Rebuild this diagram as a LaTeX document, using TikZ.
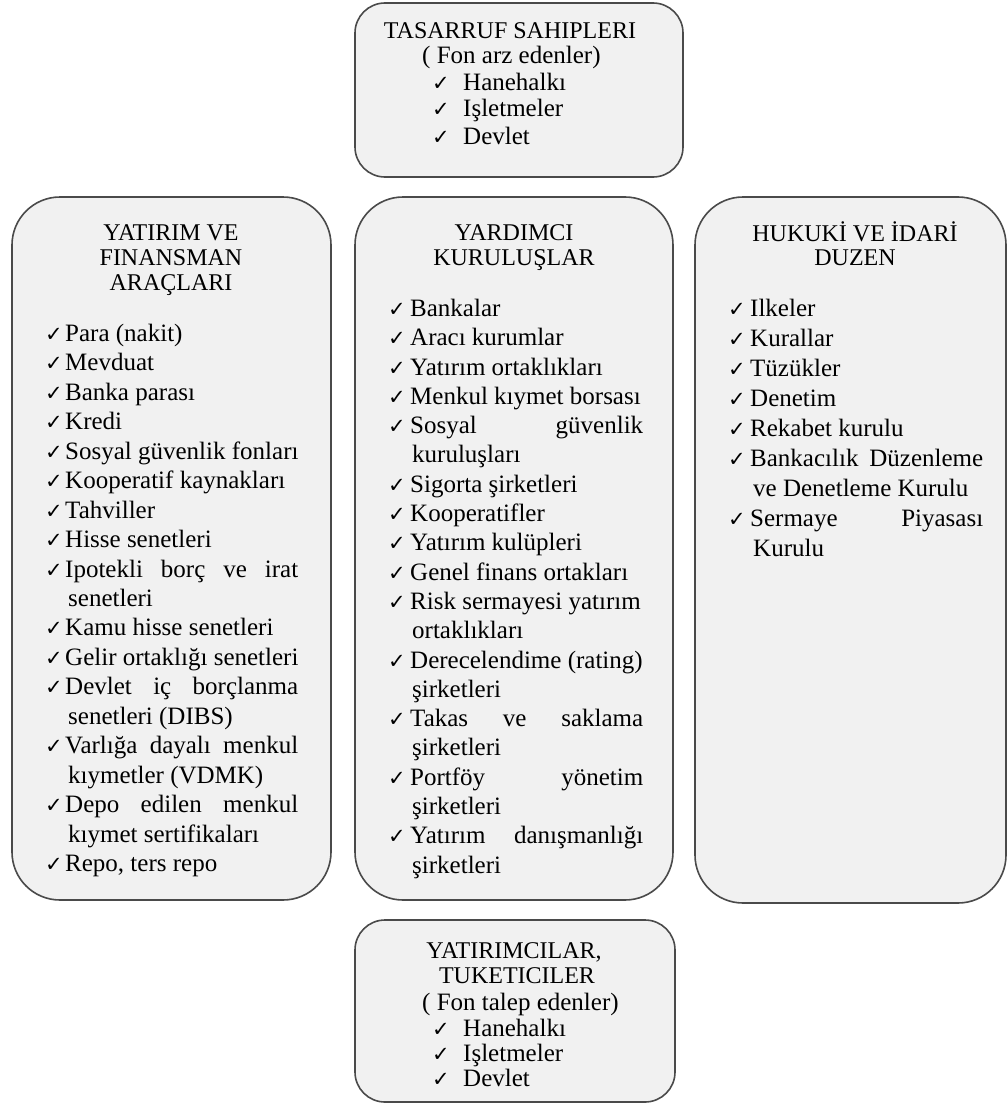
\documentclass[tikz,border=0pt]{standalone}
\usepackage{fontspec}
\setmainfont{Liberation Serif}
\newfontfamily\symf{DejaVu Sans}
\newcommand\mainsz{\fontsize{25}{29}\selectfont}
\newcommand\ttlsz{\fontsize{24}{28}\selectfont}
\newcommand\cksz{\symf\fontsize{21}{21}\selectfont}
\newcommand\J[1]{\makebox[233pt][s]{#1}}
\definecolor{boxfill}{HTML}{F1F1F1}
\definecolor{boxline}{HTML}{4A4A4A}
\tikzset{
  panel/.style={draw=boxline, line width=1.6pt, fill=boxfill, inner sep=0pt},
  tx/.style={inner sep=0pt, anchor=mid west, font=\mainsz},
  ttl/.style={inner sep=0pt, anchor=mid, font=\ttlsz},
  ck/.style={inner sep=0pt, anchor=mid west, font=\cksz},
}
\newcommand\Chk[3]{\node[ck] (#1) at (#2,#3) {✓};}
\newcommand\Txt[4]{\node[tx] (#1) at (#2,#3) {#4};}
\newcommand\Ttl[4]{\node[ttl] (#1) at (#2,#3) {#4};}
\begin{document}
\begin{tikzpicture}[x=1pt,y=-1pt]
\useasboundingbox (0,0) rectangle (1008,1105);
% panels
\node[panel, rounded corners=30pt, minimum width=328pt, minimum height=174pt] (top) at (519,90) {};
\node[panel, rounded corners=48pt, minimum width=319pt, minimum height=703pt] (left) at (171.5,548.5) {};
\node[panel, rounded corners=48pt, minimum width=318pt, minimum height=703pt] (mid) at (514,548.5) {};
\node[panel, rounded corners=48pt, minimum width=311pt, minimum height=706pt] (right) at (850.5,550) {};
\node[panel, rounded corners=30pt, minimum width=320pt, minimum height=182pt] (bot) at (515,1011) {};

\begin{scope}[yshift=-6pt]
% top box
\Ttl{t0}{510}{30}{TASARRUF SAHIPLERI}
\Txt{t1}{422}{55}{( Fon arz edenler)}
\Chk{tc1}{432}{82}\Txt{t2}{463}{82}{Hanehalkı}
\Chk{tc2}{432}{108}\Txt{t3}{463}{108}{Işletmeler}
\Chk{tc3}{432}{136}\Txt{t4}{463}{136}{Devlet}

% left box
\Ttl{lt1}{171}{232}{YATIRIM VE}
\Ttl{lt2}{171}{257}{FINANSMAN}
\Ttl{lt3}{171}{282}{ARAÇLARI}
\Chk{lc0}{45}{333}\Txt{l0}{65}{333}{Para (nakit)}
\Chk{lc1}{45}{362.5}\Txt{l1}{65}{362.5}{Mevduat}
\Chk{lc2}{45}{392}\Txt{l2}{65}{392}{Banka parası}
\Chk{lc3}{45}{421}\Txt{l3}{65}{421}{Kredi}
\Chk{lc4}{45}{451}\Txt{l4}{65}{451}{Sosyal güvenlik fonları}
\Chk{lc5}{45}{480}\Txt{l5}{65}{480}{Kooperatif kaynakları}
\Chk{lc6}{45}{510}\Txt{l6}{65}{510}{Tahviller}
\Chk{lc7}{45}{539}\Txt{l7}{65}{539}{Hisse senetleri}
\Chk{lc8}{45}{569}\Txt{l8}{65}{569}{\J{Ipotekli borç ve irat}}
\Txt{l9}{68}{598}{senetleri}
\Chk{lc10}{45}{627.5}\Txt{l10}{65}{627.5}{Kamu hisse senetleri}
\Chk{lc11}{45}{657}\Txt{l11}{65}{657}{Gelir ortaklığı senetleri}
\Chk{lc12}{45}{686}\Txt{l12}{65}{686}{\J{Devlet iç borçlanma}}
\Txt{l13}{68}{716}{senetleri (DIBS)}
\Chk{lc14}{45}{745}\Txt{l14}{65}{745}{\J{Varlığa dayalı menkul}}
\Txt{l15}{68}{775}{kıymetler (VDMK)}
\Chk{lc16}{45}{804}\Txt{l16}{65}{804}{\J{Depo edilen menkul}}
\Txt{l17}{68}{834}{kıymet sertifikaları}
\Chk{lc18}{45}{863}\Txt{l18}{65}{863}{Repo, ters repo}

% middle box
\Ttl{mt1}{514}{232}{YARDIMCI}
\Ttl{mt2}{514}{257}{KURULUŞLAR}
\Chk{mc0}{388}{308}\Txt{m0}{410}{308}{Bankalar}
\Chk{mc1}{388}{337}\Txt{m1}{410}{337}{Aracı kurumlar}
\Chk{mc2}{388}{367}\Txt{m2}{410}{367}{Yatırım ortaklıkları}
\Chk{mc3}{388}{396}\Txt{m3}{410}{396}{Menkul kıymet borsası}
\Chk{mc4}{388}{425}\Txt{m4}{410}{425}{\J{Sosyal güvenlik}}
\Txt{m5}{412}{454.5}{kuruluşları}
\Chk{mc6}{388}{484}\Txt{m6}{410}{484}{Sigorta şirketleri}
\Chk{mc7}{388}{513}\Txt{m7}{410}{513}{Kooperatifler}
\Chk{mc8}{388}{542}\Txt{m8}{410}{542}{Yatırım kulüpleri}
\Chk{mc9}{388}{572}\Txt{m9}{410}{572}{Genel finans ortakları}
\Chk{mc10}{388}{601}\Txt{m10}{410}{601}{Risk sermayesi yatırım}
\Txt{m11}{412}{630}{ortaklıkları}
\Chk{mc12}{388}{660}\Txt{m12}{410}{660}{Derecelendime (rating)}
\Txt{m13}{412}{689}{şirketleri}
\Chk{mc14}{388}{718}\Txt{m14}{410}{718}{\J{Takas ve saklama}}
\Txt{m15}{412}{747.5}{şirketleri}
\Chk{mc16}{388}{777}\Txt{m16}{410}{777}{\J{Portföy yönetim}}
\Txt{m17}{412}{806}{şirketleri}
\Chk{mc18}{388}{835}\Txt{m18}{410}{835}{\J{Yatırım danışmanlığı}}
\Txt{m19}{412}{865}{şirketleri}

% right box
\Ttl{rt1}{855}{233}{HUKUKİ VE İDARİ}
\Ttl{rt2}{855}{257}{DUZEN}
\Chk{rc0}{728}{308}\Txt{r0}{750}{308}{Ilkeler}
\Chk{rc1}{728}{338}\Txt{r1}{750}{338}{Kurallar}
\Chk{rc2}{728}{368}\Txt{r2}{750}{368}{Tüzükler}
\Chk{rc3}{728}{398}\Txt{r3}{750}{398}{Denetim}
\Chk{rc4}{728}{428}\Txt{r4}{750}{428}{Rekabet kurulu}
\Chk{rc5}{728}{458}\Txt{r5}{750}{458}{\J{Bankacılık Düzenleme}}
\Txt{r6}{753}{488}{ve Denetleme Kurulu}
\Chk{rc7}{728}{518}\Txt{r7}{750}{518}{\J{Sermaye Piyasası}}
\Txt{r8}{753}{548}{Kurulu}

% bottom box
\Ttl{b0}{514}{950}{YATIRIMCILAR,}
\Ttl{b1}{517}{975}{TUKETICILER}
\Txt{b2}{422}{1002}{( Fon talep edenler)}
\Chk{bc1}{432}{1028}\Txt{b3}{463}{1028}{Hanehalkı}
\Chk{bc2}{432}{1053}\Txt{b4}{463}{1053}{Işletmeler}
\Chk{bc3}{432}{1078}\Txt{b5}{463}{1078}{Devlet}
\end{scope}
\end{tikzpicture}
\end{document}
